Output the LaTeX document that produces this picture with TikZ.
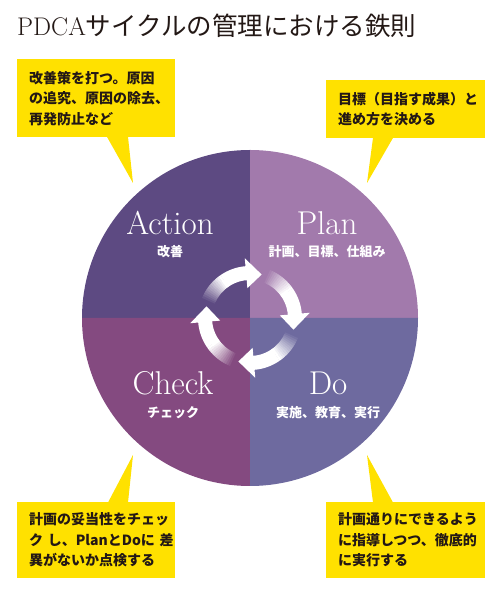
\documentclass[tikz,border=0pt]{standalone}
\usepackage{fontspec}
\usetikzlibrary{positioning}
\newfontfamily\jpfont{Noto Sans CJK JP}
\definecolor{Ink}{HTML}{231815}
\definecolor{Note}{HTML}{FFE100}
\definecolor{ActQ}{HTML}{5D4A82}
\definecolor{PlanQ}{HTML}{A27AAC}
\definecolor{CheckQ}{HTML}{844A80}
\definecolor{DoQ}{HTML}{6E6A9F}

% one curved arrow of the cycle: #1 = rotation, #2 = colour of its quadrant
\newcommand{\cyclearrow}[2]{%
  \foreach \i in {0,...,13}{
    \pgfmathsetmacro{\ang}{#1+160-2.5*\i}
    \pgfmathtruncatemacro{\mix}{100*\i/13}
    \draw[ring,draw=white!\mix!#2] ([shift={(\ang:45)}]hub) arc[start angle=\ang,delta angle=-3,radius=45];
  }
  \draw[ring] ([shift={(#1+125:45)}]hub) arc[start angle=#1+125,end angle=#1+94,radius=45];
  \fill[white] ([shift={(#1+95:30)}]hub) -- ([shift={(#1+75:45)}]hub) -- ([shift={(#1+95:60)}]hub) -- cycle;
}

\begin{document}
\begin{tikzpicture}[x=1pt,y=1pt,
  note/.style={fill=Note,text=Ink,font=\jpfont\bfseries\fontsize{14}{20.5}\selectfont,align=left,
    text width=134pt,inner xsep=12pt,inner ysep=0pt,anchor=north west},
  tail/.style={fill=Note},
  phase/.style={text=white,font=\fontsize{33}{33}\selectfont,anchor=base,inner sep=0pt},
  phasesub/.style={text=white,font=\jpfont\bfseries\fontsize{13}{13}\selectfont,anchor=base,inner sep=0pt},
  ring/.style={line width=14pt,draw=white}
]
\useasboundingbox (0,0) rectangle (500,594);

\node[anchor=base west,text=Ink,font=\fontsize{25.5}{25.5}\selectfont,inner sep=0pt] (title) at (17,558)
  {PDCA{\jpfont サイクルの管理における鉄則}};

% the four quadrants
\coordinate (hub) at (250,276);
\fill[ActQ] (hub) -- ++(90:168) arc[start angle=90,end angle=180,radius=168] -- cycle;
\fill[PlanQ] (hub) -- ++(0:168) arc[start angle=0,end angle=90,radius=168] -- cycle;
\fill[CheckQ] (hub) -- ++(180:168) arc[start angle=180,end angle=270,radius=168] -- cycle;
\fill[DoQ] (hub) -- ++(270:168) arc[start angle=270,end angle=360,radius=168] -- cycle;

\cyclearrow{0}{ActQ}
\cyclearrow{-90}{PlanQ}
\cyclearrow{-180}{DoQ}
\cyclearrow{-270}{CheckQ}

\node[phase] (action) at (170,359) {Action};
\node[phase] (plan) at (327,359) {Plan};
\node[phase] (check) at (173,199) {Check};
\node[phase] (do) at (328,199) {Do};
\node[phasesub] (actionsub) at (170,337) {改善};
\node[phasesub] (plansub) at (327,337) {計画、目標、仕組み};
\node[phasesub] (checksub) at (173,176) {チェック};
\node[phasesub] (dosub) at (328,176) {実施、教育、実行};

% callouts
\node[note,minimum height=78pt] (actnote) at (17,535)
  {改善策を打つ。原因\\の追究、原因の除去、\\再発防止など};
\node[note,minimum height=58pt,text width=135pt] (plannote) at (326,514)
  {目標（目指す成果）と\\進め方を決める};
\node[note,minimum height=76pt] (checknote) at (17,92)
  {計画の妥当性をチェッ\\ク~し、PlanとDoに~差\\異がないか点検する};
\node[note,minimum height=76pt,text width=135pt] (donote) at (326,92)
  {計画通りにできるよう\\に指導しつつ、徹底的\\に実行する};

\coordinate (acttip) at (133,411);
\coordinate (plantip) at (367,411);
\coordinate (checktip) at (133,139);
\coordinate (dotip) at (367,139);
\fill[tail] ([xshift=90pt,yshift=0.5pt]actnote.south west) -- (acttip) -- ([xshift=111pt,yshift=0.5pt]actnote.south west) -- cycle;
\fill[tail] ([xshift=47pt,yshift=0.5pt]plannote.south west) -- (plantip) -- ([xshift=67pt,yshift=0.5pt]plannote.south west) -- cycle;
\fill[tail] ([xshift=91pt,yshift=-0.5pt]checknote.north west) -- (checktip) -- ([xshift=111pt,yshift=-0.5pt]checknote.north west) -- cycle;
\fill[tail] ([xshift=47pt,yshift=-0.5pt]donote.north west) -- (dotip) -- ([xshift=67pt,yshift=-0.5pt]donote.north west) -- cycle;
\end{tikzpicture}
\end{document}
